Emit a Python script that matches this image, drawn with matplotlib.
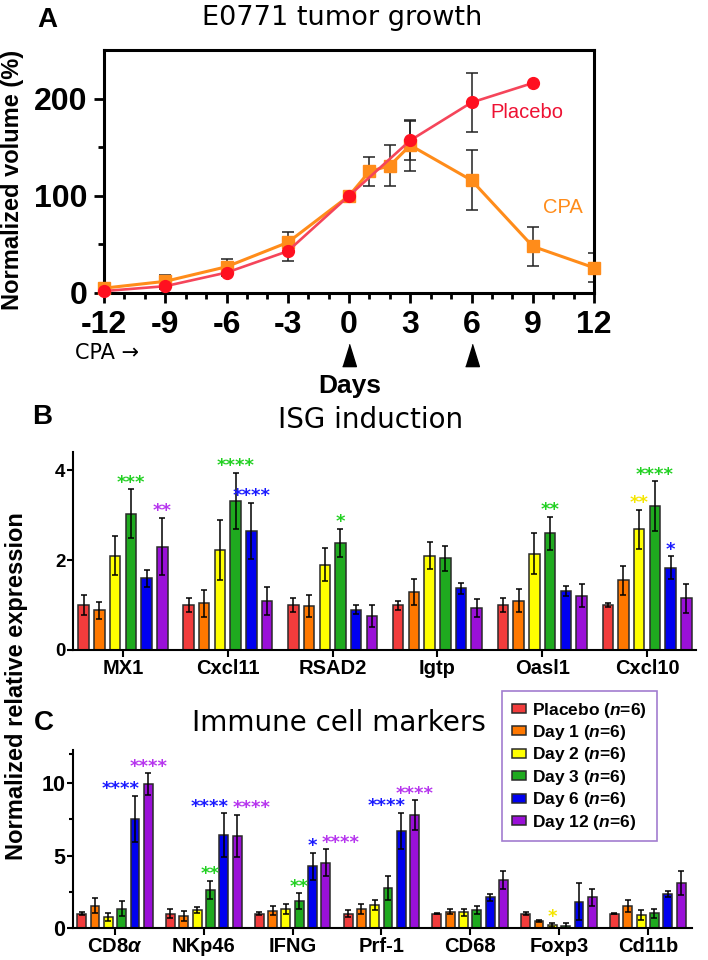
import numpy as np
import matplotlib

matplotlib.use('Agg')
from matplotlib import pyplot as plt
from matplotlib.patches import Patch
from matplotlib.ticker import MultipleLocator, FixedLocator
from matplotlib import transforms

plt.rcParams['font.family'] = ['Liberation Sans', 'DejaVu Sans']
plt.rcParams['mathtext.fontset'] = 'custom'
plt.rcParams['mathtext.rm'] = 'Liberation Sans:bold'
plt.rcParams['mathtext.it'] = 'Liberation Sans:bold:italic'

W, H = 708, 960

# ---- panel A data: tumor growth ----
days_placebo = [-12, -9, -6, -3, 0, 3, 6, 9]
vol_placebo = [2, 7, 21, 43, 100, 157, 196, 216]
err_placebo = [2, 3, 3, 10, 0, 20, 30, 0]
days_cpa = [-12, -9, -6, -3, 0, 1, 2, 3, 6, 9, 12]
vol_cpa = [5, 12, 27, 52, 100, 125, 131, 152, 116, 48, 26]
err_cpa = [3, 7, 8, 11, 0, 15, 21, 26, 31, 20, 15]
dose_days = [0, 6]

# ---- shared series ----
series_names = ['Placebo', 'Day 1', 'Day 2', 'Day 3', 'Day 6', 'Day 12']
series_n = [6, 6, 6, 6, 6, 6]
bar_colors = ['#f23c3c', '#ff7800', '#ffff00', '#1faa1f', '#0000f0', '#9a10d8']
star_colors = ['#f23c3c', '#ff7800', '#f5e600', '#22d022', '#1a1aff', '#b635ee']

# ---- panel B data: ISG induction ----
isg_genes = ['MX1', 'Cxcl11', 'RSAD2', 'Igtp', 'Oasl1', 'Cxcl10']
isg_mean = [
    [1.0, 1.0, 1.0, 1.0, 1.0, 1.0],
    [0.88, 1.04, 0.98, 1.29, 1.10, 1.55],
    [2.10, 2.22, 1.90, 2.10, 2.14, 2.68],
    [3.03, 3.32, 2.38, 2.04, 2.59, 3.20],
    [1.59, 2.65, 0.89, 1.37, 1.31, 1.83],
    [2.30, 1.08, 0.75, 0.94, 1.21, 1.15],
]
isg_err = [
    [0.22, 0.16, 0.16, 0.10, 0.16, 0.05],
    [0.18, 0.30, 0.25, 0.29, 0.25, 0.32],
    [0.43, 0.66, 0.36, 0.30, 0.46, 0.44],
    [0.54, 0.62, 0.32, 0.28, 0.37, 0.55],
    [0.18, 0.62, 0.10, 0.13, 0.12, 0.26],
    [0.64, 0.31, 0.24, 0.20, 0.25, 0.32],
]
# (gene index, series index, stars)
isg_stars = [(0, 3, '***'), (0, 5, '**'), (1, 3, '****'), (1, 4, '****'),
             (2, 3, '*'), (4, 3, '**'), (5, 2, '**'), (5, 3, '****'), (5, 4, '*')]

# ---- panel C data: immune cell markers ----
imm_genes = [r'CD8$\alpha$', 'NKp46', 'IFNG', 'Prf-1', 'CD68', 'Foxp3', 'Cd11b']
imm_mean = [
    [1.0, 1.0, 1.0, 1.0, 1.0, 1.0, 1.0],
    [1.55, 0.80, 1.20, 1.31, 1.13, 0.50, 1.54],
    [0.75, 1.24, 1.31, 1.59, 1.08, 0.20, 0.90],
    [1.32, 2.63, 1.84, 2.76, 1.24, 0.16, 1.01],
    [7.53, 6.43, 4.26, 6.70, 2.12, 1.82, 2.35],
    [9.93, 6.38, 4.50, 7.80, 3.34, 2.12, 3.09],
]
imm_err = [
    [0.12, 0.28, 0.12, 0.25, 0.06, 0.12, 0.06],
    [0.50, 0.35, 0.30, 0.35, 0.18, 0.08, 0.42],
    [0.30, 0.19, 0.35, 0.35, 0.23, 0.12, 0.34],
    [0.52, 0.64, 0.56, 0.81, 0.26, 0.19, 0.30],
    [1.60, 1.52, 0.94, 1.27, 0.23, 1.27, 0.23],
    [0.75, 1.45, 0.94, 1.05, 0.62, 0.58, 0.83],
]
imm_stars = [(0, 4, '****'), (0, 5, '****'), (1, 3, '**'), (1, 4, '****'),
             (1, 5, '****'), (2, 3, '**'), (2, 4, '*'), (2, 5, '****'),
             (3, 4, '****'), (3, 5, '****'), (5, 2, '*')]

# star labels that sit beside a neighbour are pushed sideways
star_align = {'C': {(0, 4): 'right', (1, 4): 'right', (1, 5): 'left',
                    (2, 5): 'left', (3, 4): 'right'}}


def rect(x0, y0, x1, y1):
    # pixel box -> figure fraction
    return [x0 / W, 1 - y1 / H, (x1 - x0) / W, (y1 - y0) / H]


def ftext(x, y, s, **kw):
    fig.text(x / W, 1 - y / H, s, ha='center', va='center', **kw)


fig = plt.figure(figsize=(W / 100, H / 100), dpi=100)

# ================= A =================
axA = fig.add_axes(rect(104, 50, 594, 293))
axA.errorbar(days_cpa, vol_cpa, yerr=err_cpa, fmt='none', ecolor='#222222',
             elinewidth=1.1, capsize=4, capthick=1.1, zorder=2)
axA.errorbar(days_placebo, vol_placebo, yerr=err_placebo, fmt='none', ecolor='#222222',
             elinewidth=1.1, capsize=4, capthick=1.1, zorder=2)
axA.plot(days_cpa, vol_cpa, '-', color='#ff8c1a', lw=2.2, marker='s', ms=8.5,
         mfc='#ff8c1a', mec='#ff8c1a', clip_on=False, zorder=3)
axA.plot(days_placebo, vol_placebo, '-', color='#f5455a', lw=1.9, marker='o', ms=8.5,
         mfc='#ff1020', mec='#ff1020', clip_on=False, zorder=4)
axA.text(6.9, 186, 'Placebo', color='#ee1133', fontsize=14.5, va='center')
axA.text(9.5, 88, 'CPA', color='#ff8c1a', fontsize=14.5, va='center')
axA.set_xlim(-12, 12)
axA.set_ylim(0, 250)
axA.set_xticks(np.arange(-12, 13, 3))
axA.set_xticklabels([str(d) for d in range(-12, 13, 3)])
axA.xaxis.set_minor_locator(MultipleLocator(1))
axA.yaxis.set_major_locator(FixedLocator([0, 100, 200]))
axA.yaxis.set_minor_locator(FixedLocator([50, 150]))
for sp in axA.spines.values():
    sp.set_linewidth(2.2)
axA.tick_params(which='major', length=7, width=2, labelsize=23, pad=5)
axA.tick_params(which='minor', length=4.5, width=2)
for lab in axA.get_xticklabels() + axA.get_yticklabels():
    lab.set_fontweight('bold')
trA = transforms.blended_transform_factory(axA.transData, axA.transAxes)
axA.plot(dose_days, [-0.255] * len(dose_days), linestyle='none',
         marker=[(-0.62, -1), (0.62, -1), (0, 1)], ms=16, color='black',
         transform=trA, clip_on=False)
fig.text(13 / W, 1 - 180 / H, 'Normalized volume (%)', rotation=90,
         ha='center', va='center', fontsize=17, fontweight='bold')
ftext(107, 353, 'CPA \u2192', fontsize=15, family='DejaVu Sans')
ftext(350, 386, 'Days', fontsize=19, fontweight='bold')
ftext(47, 20, 'A', fontsize=20, fontweight='bold')
ftext(342, 18, 'E0771 tumor growth', fontsize=19.5, family='DejaVu Sans')

pitch = 0.15
width = 0.1


def bar_panel(ax, genes, means, errs, stars, align):
    ng = len(genes)
    x = np.arange(ng)
    for i in range(len(series_names)):
        xi = x + (i - 2.5) * pitch
        ax.bar(xi, means[i], width=width, color=bar_colors[i], edgecolor='#2a2a2a',
               linewidth=1.1, zorder=2)
        ax.errorbar(xi, means[i], yerr=errs[i], fmt='none', ecolor='black',
                    elinewidth=1.1, capsize=2.2, capthick=1.1, zorder=3)
    for g, s, txt in stars:
        xs = g + (s - 2.5) * pitch
        ha = align.get((g, s), 'center')
        if ha == 'right':
            xs += width / 2
        elif ha == 'left':
            xs -= width / 2
        top = means[s][g] + errs[s][g]
        ax.annotate(txt, (xs, top), xytext=(0, 1), textcoords='offset points',
                    ha=ha, va='baseline', fontsize=13, fontweight='bold',
                    color=star_colors[s], family='DejaVu Sans')
    ax.set_xticks(x)
    ax.set_xticklabels(genes)
    for sp in ['top', 'right']:
        ax.spines[sp].set_visible(False)
    for sp in ['left', 'bottom']:
        ax.spines[sp].set_linewidth(1.5)
    ax.tick_params(axis='x', length=5, width=1.5, labelsize=14.5, pad=1.5)
    for lab in ax.get_xticklabels() + ax.get_yticklabels():
        lab.set_fontweight('bold')


# ================= B =================
axB = fig.add_axes(rect(73, 452, 696, 650))
bar_panel(axB, isg_genes, isg_mean, isg_err, isg_stars, star_align.get('B', {}))
axB.set_xlim(-0.477, 5.467)
axB.set_ylim(0, 4.4)
axB.set_yticks([0, 2, 4])
axB.tick_params(axis='y', length=4.5, width=1.5, labelsize=13.5, pad=1)
for lab in axB.get_yticklabels():
    lab.set_fontweight('bold')
ftext(42, 417, 'B', fontsize=20, fontweight='bold')
ftext(371, 420, 'ISG induction', fontsize=20, family='DejaVu Sans')

# ================= C =================
axC = fig.add_axes(rect(73, 750, 692, 928))
bar_panel(axC, imm_genes, imm_mean, imm_err, imm_stars, star_align.get('C', {}))
axC.set_xlim(-0.473, 6.498)
axC.set_ylim(0, 12.3)
axC.set_yticks([0, 5, 10])
axC.yaxis.set_minor_locator(FixedLocator([2.5, 7.5, 12.0]))
axC.tick_params(axis='y', which='major', length=4.5, width=1.5, labelsize=15.5, pad=1)
axC.tick_params(axis='y', which='minor', length=3, width=1.5)
for lab in axC.get_yticklabels():
    lab.set_fontweight('bold')
ftext(44, 723, 'C', fontsize=20, fontweight='bold')
ftext(339, 723, 'Immune cell markers', fontsize=20, family='DejaVu Sans')

fig.text(17 / W, 1 - 686 / H, 'Normalized relative expression', rotation=90,
         ha='center', va='center', fontsize=17, fontweight='bold')

handles = [Patch(facecolor=c, edgecolor='#2a2a2a', linewidth=1.1) for c in bar_colors]
labels = [f'{s} ($n$={n})' for s, n in zip(series_names, series_n)]
leg = fig.legend(handles, labels, loc='upper left',
                 bbox_to_anchor=(502 / W, 1 - 691 / H), bbox_transform=fig.transFigure,
                 frameon=True, fancybox=False, edgecolor='#8a5cc4',
                 handlelength=0.85, handleheight=0.4, handletextpad=0.35,
                 labelspacing=0.2, borderpad=0.55, borderaxespad=0,
                 prop={'weight': 'bold', 'size': 12.5})
leg.get_frame().set_linewidth(1.2)

fig.savefig('out.png', dpi=100)
